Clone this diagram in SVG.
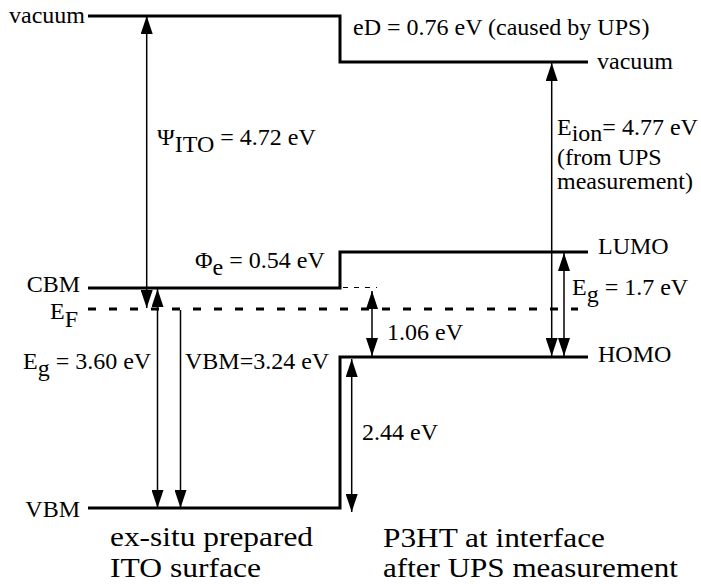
<svg xmlns="http://www.w3.org/2000/svg" width="701" height="585" viewBox="0 0 701 585">
<style>
  .lvl { fill: none; stroke: #000; stroke-width: 3; stroke-linejoin: miter; }
  .ef { fill: none; stroke: #000; stroke-width: 3; stroke-dasharray: 8 13; }
  .thin { fill: none; stroke: #000; stroke-width: 1; stroke-dasharray: 5 6; }
  .arr { fill: none; stroke: #000; stroke-width: 1.5; }
  text { font-family: 'Liberation Serif', 'DejaVu Serif', 'Noto Serif', Tinos, Times, serif; font-size: 24px; fill: #000; }
  text.big { font-size: 27px; }
</style>
<defs>
  <marker id="ah" viewBox="0 0 18 12" refX="18" refY="6" markerWidth="18" markerHeight="12" markerUnits="userSpaceOnUse" orient="auto-start-reverse">
    <path d="M0,0 L18,6 L0,12 z" fill="#000"/>
  </marker>
</defs>
<rect width="701" height="585" fill="#fff"/>

<g id="ito-levels">
  <path class="lvl" d="M88,16 H340 V62 H588"/>
  <path class="lvl" d="M88,288 H340 V252 H588"/>
  <path class="lvl" d="M88,508 H340 V357 H588"/>
</g>
<g id="fermi-level">
  <path class="ef" d="M88,309 H578"/>
  <path class="thin" d="M343,287.5 H377"/>
</g>

<g id="connectors">
  <line class="arr" x1="146.7" y1="16" x2="146.7" y2="308" marker-start="url(#ah)" marker-end="url(#ah)"/>
  <line class="arr" x1="157.5" y1="289" x2="157.5" y2="508" marker-start="url(#ah)" marker-end="url(#ah)"/>
  <line class="arr" x1="180.5" y1="310" x2="180.5" y2="508" marker-end="url(#ah)"/>
  <line class="arr" x1="551.7" y1="63" x2="551.7" y2="356" marker-start="url(#ah)" marker-end="url(#ah)"/>
  <line class="arr" x1="564" y1="253" x2="564" y2="356" marker-start="url(#ah)" marker-end="url(#ah)"/>
  <line class="arr" x1="372" y1="291" x2="372" y2="356" marker-start="url(#ah)" marker-end="url(#ah)"/>
  <line class="arr" x1="351.7" y1="359" x2="351.7" y2="512" marker-start="url(#ah)" marker-end="url(#ah)"/>
</g>

<g id="labels">
  <text x="85" y="23" text-anchor="end">vacuum</text>
  <text x="353" y="35">eD = 0.76 eV (caused by UPS)</text>
  <text x="597" y="69">vacuum</text>
  <text x="157" y="145">Ψ<tspan dy="7">ITO</tspan><tspan dy="-7"> = 4.72 eV</tspan></text>
  <text x="557" y="135">E<tspan dy="6">ion</tspan><tspan dy="-6">= 4.77 eV</tspan></text>
  <text x="557" y="165">(from UPS</text>
  <text x="557" y="189">measurement)</text>
  <text x="598" y="254">LUMO</text>
  <text x="195" y="268">Φ<tspan dy="7">e</tspan><tspan dy="-7"> = 0.54 eV</tspan></text>
  <text x="80" y="292" text-anchor="end">CBM</text>
  <text x="50" y="319">E<tspan dy="8">F</tspan></text>
  <text x="572" y="295">E<tspan dy="7">g</tspan><tspan dy="-7"> = 1.7 eV</tspan></text>
  <text x="387" y="340">1.06 eV</text>
  <text x="598" y="362">HOMO</text>
  <text x="23" y="369">E<tspan dy="7">g</tspan><tspan dy="-7"> = 3.60 eV</tspan></text>
  <text x="185" y="369">VBM=3.24 eV</text>
  <text x="362" y="440">2.44 eV</text>
  <text x="80" y="517" text-anchor="end">VBM</text>
  <text class="big" x="110" y="546" textLength="203" lengthAdjust="spacingAndGlyphs">ex-situ prepared</text>
  <text class="big" x="110" y="577" textLength="151" lengthAdjust="spacingAndGlyphs">ITO surface</text>
  <text class="big" x="383" y="547" textLength="222" lengthAdjust="spacingAndGlyphs">P3HT at interface</text>
  <text class="big" x="383" y="577" textLength="295" lengthAdjust="spacingAndGlyphs">after UPS measurement</text>
</g>
</svg>
